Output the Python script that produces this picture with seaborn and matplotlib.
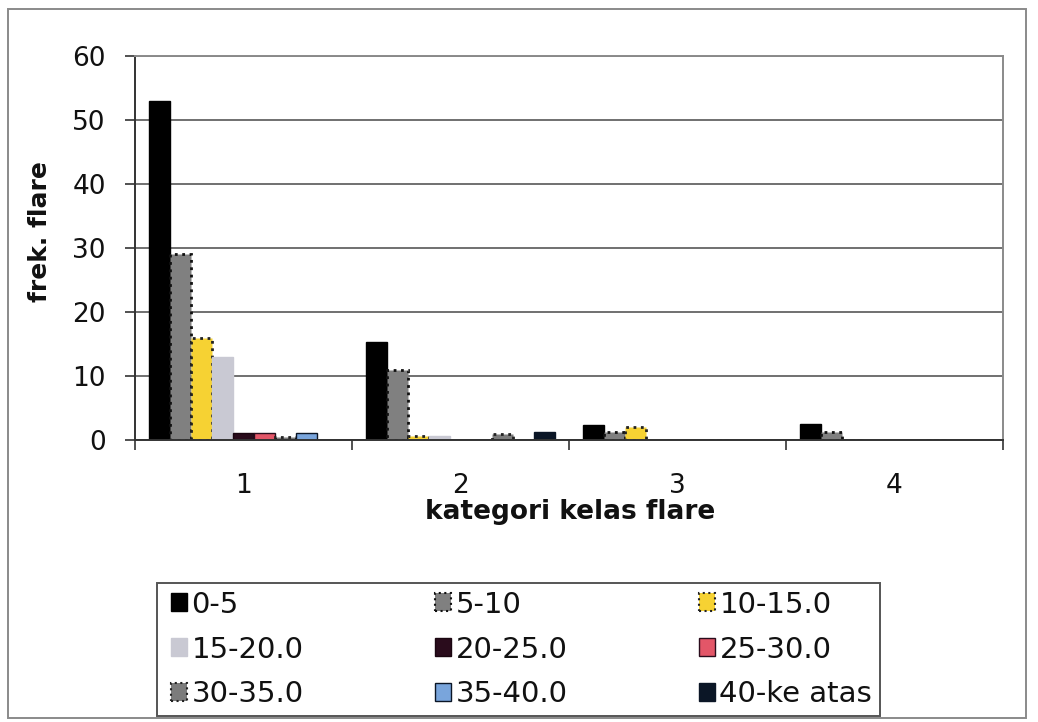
import matplotlib
matplotlib.use("Agg")
import matplotlib.pyplot as plt
from matplotlib.patches import Patch, Rectangle
import seaborn as sns
import pandas as pd

# Flare frequency per class category, split by duration range
kelas = ["1", "2", "3", "4"]
rentang = ["0-5", "5-10", "10-15.0", "15-20.0", "20-25.0",
           "25-30.0", "30-35.0", "35-40.0", "40-ke atas"]
frek_0_5 = [53, 15.3, 2.3, 2.5]
frek_5_10 = [29, 11, 1.2, 1.3]
frek_10_15 = [16, 0.7, 2, 0]
frek_15_20 = [13, 0.7, 0, 0]
frek_20_25 = [1.1, 0, 0, 0]
frek_25_30 = [1.1, 0, 0, 0]
frek_30_35 = [0.5, 1, 0, 0]
frek_35_40 = [1.1, 0, 0, 0]
frek_40_up = [0, 1.2, 0, 0]

series = [frek_0_5, frek_5_10, frek_10_15, frek_15_20, frek_20_25,
          frek_25_30, frek_30_35, frek_35_40, frek_40_up]

fills = ["#000000", "#808080", "#f6d233", "#c9c9d3", "#2a0c1c",
         "#e35668", "#7c7c7c", "#79a5dc", "#0b1626"]
edges = ["#000000", "#111111", "#222222", "#c9c9d3", "#1a0610",
         "#2a0c1c", "#222222", "#0b1626", "#0b1626"]
styles = ["-", ":", ":", "-", "-", "-", ":", "-", "-"]

rows = []
for name, vals in zip(rentang, series):
    for k, v in zip(kelas, vals):
        rows.append({"kelas": k, "rentang": name, "frek": v})
df = pd.DataFrame(rows)

sns.set_theme(style="white")
plt.rcParams["font.family"] = ["DejaVu Sans"]

fig = plt.figure(figsize=(10.38, 7.22), dpi=100)
ax = fig.add_axes([0.130, 0.3906, 0.836, 0.532])

sns.barplot(data=df, x="kelas", y="frek", hue="rentang",
            order=kelas, hue_order=rentang, palette=fills,
            width=0.87, gap=0, saturation=1, legend=False, ax=ax)

for cont, ec, ls in zip(ax.containers, edges, styles):
    for bar in cont:
        bar.set_edgecolor(ec)
        bar.set_linestyle(ls)
        bar.set_linewidth(2.0 if ls == ":" else 1.0)

ax.set_ylim(0, 60)
ax.set_xlim(-0.5, 3.5)
ax.set_yticks(range(0, 61, 10))
ax.yaxis.grid(True, color="#707070", linewidth=1.4)
ax.set_axisbelow(True)

ax.set_xticks(range(4))
ax.set_xticklabels(kelas)
ax.set_xticks([-0.5, 0.5, 1.5, 2.5, 3.5], minor=True)
ax.tick_params(axis="x", which="major", length=0, labelsize=19, pad=24,
               labelcolor="#111111")
ax.tick_params(axis="x", which="minor", length=7, width=1.2,
               direction="out", color="#333333", bottom=True)
ax.tick_params(axis="y", length=7, width=1.2, direction="out",
               color="#333333", left=True, labelsize=19, pad=14,
               labelcolor="#111111")

for side, sp in ax.spines.items():
    sp.set_visible(True)
    sp.set_color("#8a8a8a")
    sp.set_linewidth(1.4)
ax.spines["left"].set_color("#333333")
ax.spines["bottom"].set_color("#333333")

ax.set_xlabel("kategori kelas flare", fontsize=19, fontweight="bold",
              color="#111111")
ax.xaxis.set_label_coords(0.501, -0.1875)
ax.xaxis.label.set_va("center")
ax.set_ylabel("frek. flare", fontsize=18, fontweight="bold",
              color="#111111")
ax.yaxis.set_label_coords(-0.109, 0.542)
ax.yaxis.label.set_va("center")

# Legend laid out row by row across three columns, inside its own box
handles = [Patch(facecolor=f, edgecolor=e, linestyle=s,
                 linewidth=1.5 if s == ":" else 1.0)
           for f, e, s in zip(fills, edges, styles)]
ncol = 3
order = [r * ncol + c for c in range(ncol) for r in range(3)]
leg = fig.legend([handles[i] for i in order], [rentang[i] for i in order],
                 ncol=ncol, loc="center",
                 bbox_to_anchor=(0.1647, 0.0083, 0.6755, 0.1842),
                 mode="expand", fontsize=21, frameon=False,
                 handlelength=0.55, handleheight=0.55, handletextpad=0.15,
                 labelspacing=0.58, borderaxespad=0, borderpad=0,
                 columnspacing=1.0)
for t in leg.get_texts():
    t.set_color("#111111")
fig.patches.append(Rectangle((0.1513, 0.0083), 0.6965, 0.1842,
                             transform=fig.transFigure, fill=False,
                             edgecolor="#555555", linewidth=1.4))

# Outer chart frame
fig.patches.append(Rectangle((0.008, 0.006), 0.980, 0.982,
                             transform=fig.transFigure, fill=False,
                             edgecolor="#8a8a8a", linewidth=1.4))

fig.savefig("out.png", dpi=100)
